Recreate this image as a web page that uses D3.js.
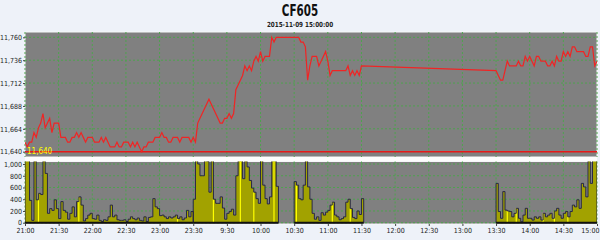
<!DOCTYPE html>
<html>
<head>
<meta charset="utf-8">
<script src="https://cdn.jsdelivr.net/npm/d3@7"></script>
<style>
  body { margin: 0; background: #eef2f9; }
  text { font-family: "Liberation Sans Narrow", "DejaVu Sans Condensed", sans-serif; }
</style>
</head>
<body>
<div id="chart"></div>
<script>
var title = "CF605";
var subtitle = "2015-11-09 15:00:00";
var tickLabels = ["21:00", "21:30", "22:00", "22:30", "23:00", "23:30", "9:30", "10:00", "10:30",
  "11:00", "11:30", "12:00", "12:30", "13:00", "13:30", "14:00", "14:30", "15:00"];
var priceTicks = [11640, 11664, 11688, 11712, 11736, 11760];
var volumeTicks = [0, 200, 400, 600, 800, 1000];
var lowLine = 11640;

// minutes after 21:00 on the compressed session axis (night, 9:00, 10:30, 13:30)
var sessionStarts = [0, 150, 240, 420];
var stepMinutes = 2;

var nightPrice = [11650, 11645, 11650, 11650, 11660, 11655, 11665, 11670, 11680, 11665,
  11670, 11675, 11660, 11670, 11670, 11670, 11655, 11655, 11655, 11650,
  11650, 11655, 11655, 11660, 11655, 11660, 11655, 11650, 11655, 11655,
  11655, 11650, 11650, 11650, 11655, 11650, 11655, 11650, 11645, 11645,
  11645, 11650, 11645, 11645, 11650, 11650, 11650, 11645, 11650, 11645,
  11650, 11645, 11640, 11645, 11645, 11650, 11650, 11650, 11655, 11655,
  11655, 11660, 11655, 11655, 11650, 11650, 11655, 11655, 11655, 11650,
  11655, 11655, 11655, 11655, 11650, 11655];
var morningPrice = [11655, 11650, 11670, 11675, 11680, 11685, 11690, 11695, 11690, 11685,
  11680, 11675, 11670, 11670, 11675, 11675, 11680, 11675, 11680, 11705,
  11710, 11715, 11720, 11730, 11725, 11730, 11725, 11735, 11740, 11735,
  11745, 11735, 11740, 11740, 11740, 11760, 11755, 11760];
var midPrice = [11760, 11760, 11760, 11755, 11755, 11750, 11715, 11730, 11740, 11740,
  11740, 11730, 11735, 11740, 11745, 11735, 11720, 11725, 11725, 11725,
  11725, 11725, 11725, 11725, 11730, 11720, 11725, 11720, 11725, 11720,
  11730];
var afternoonPrice = [11725, 11720, 11715, 11715, 11725, 11735, 11730, 11730, 11730, 11730,
  11735, 11730, 11730, 11740, 11735, 11740, 11735, 11730, 11740, 11740,
  11735, 11735, 11735, 11730, 11730, 11735, 11730, 11740, 11735, 11735,
  11745, 11740, 11745, 11740, 11750, 11750, 11745, 11745, 11745, 11745,
  11740, 11740, 11750, 11750, 11730, 11735];

var nightVolume = [1200, 1100, 380, 40, 1100, 390, 500, 480, 1300, 840,
  160, 240, 210, 390, 240, 70, 360, 210, 180, 60,
  160, 270, 100, 360, 440, 300, 30, 70, 130, 160,
  70, 60, 130, 40, 20, 50, 40, 100, 300, 100,
  130, 50, 40, 40, 50, 20, 60, 100, 70, 50,
  80, 40, 30, 100, 20, 90, 100, 410, 270, 240,
  120, 130, 100, 70, 100, 80, 100, 130, 70, 100,
  50, 80, 210, 100, 190];
var morningVolume = [400, 1100, 1000, 800, 800, 1100, 1050, 520, 1100, 400,
  330, 330, 440, 250, 60, 160, 190, 230, 130, 800,
  1200, 1100, 750, 1200, 950, 720, 590, 520, 410, 330,
  1100, 640, 410, 320, 440, 1200, 1100, 620];
var midVolume = [700, 640, 410, 390, 640, 1200, 610, 400, 160, 60,
  100, 40, 170, 130, 180, 210, 300, 350, 130, 100,
  50, 70, 100, 350, 400, 240, 90, 70, 200, 140,
  410];
var afternoonVolume = [670, 190, 75, 530, 215, 200, 190, 100, 160, 245,
  75, 17, 130, 245, 75, 75, 45, 100, 75, 100,
  45, 160, 100, 130, 160, 75, 200, 245, 130, 75,
  160, 190, 100, 190, 300, 270, 390, 245, 670, 610,
  440, 1100, 670, 1100, 1100];

// minutes (same axis) of the bars drawn in bright yellow
var highlightMinutes = [12, 48, 90, 136, 168, 192, 204, 222, 242, 274, 290, 430, 438, 462, 472, 484];

var svgWidth = 600;
var svgHeight = 240;
var plotLeft = 25, plotRight = 597;
var priceTop = 32, priceBottom = 157;
var volTop = 161.5, volBottom = 224;

var svg = d3.select("#chart").append("svg")
  .attr("width", svgWidth)
  .attr("height", svgHeight)
  .style("display", "block");

svg.append("rect").attr("width", svgWidth).attr("height", svgHeight).attr("fill", "#eef2f9");

var x = d3.scaleLinear().domain([0, 510]).range([plotLeft, plotRight]);
var yPrice = d3.scaleLinear().domain([11634.4, 11765.6]).range([priceBottom, priceTop]);
var yVol = d3.scaleLinear().domain([-22, 1043]).range([volBottom, volTop]);

var priceSeries = [nightPrice, morningPrice, midPrice, afternoonPrice];
var volumeSeries = [nightVolume, morningVolume, midVolume, afternoonVolume];

var pricePoints = [];
priceSeries.forEach(function(arr, s) {
  arr.forEach(function(p, i) {
    pricePoints.push({ t: sessionStarts[s] + i * stepMinutes, p: p });
  });
});

// titles (squeezed to match the narrow original face)
svg.append("text").attr("transform", "translate(300,16) scale(0.72,1)").attr("text-anchor", "middle")
  .attr("font-size", 16).attr("font-weight", "bold").attr("fill", "#111").text(title);
svg.append("text").attr("transform", "translate(300,26.5) scale(0.9,1)").attr("text-anchor", "middle")
  .attr("font-size", 7).attr("font-weight", "bold").attr("fill", "#222").text(subtitle);

// panels
svg.append("rect").attr("x", plotLeft).attr("y", priceTop)
  .attr("width", plotRight - plotLeft).attr("height", priceBottom - priceTop)
  .attr("fill", "#808080").attr("stroke", "#f6f7f9");
svg.append("rect").attr("x", plotLeft).attr("y", priceBottom)
  .attr("width", plotRight - plotLeft).attr("height", volTop - priceBottom)
  .attr("fill", "#fdfdfd");
svg.append("rect").attr("x", plotLeft).attr("y", volTop)
  .attr("width", plotRight - plotLeft).attr("height", volBottom - volTop)
  .attr("fill", "#808080").attr("stroke", "#f6f7f9");

var defs = svg.append("defs");
defs.append("clipPath").attr("id", "clipPrice").append("rect")
  .attr("x", plotLeft).attr("y", priceTop).attr("width", plotRight - plotLeft).attr("height", priceBottom - priceTop);
defs.append("clipPath").attr("id", "clipVol").append("rect")
  .attr("x", plotLeft).attr("y", volTop).attr("width", plotRight - plotLeft).attr("height", volBottom - volTop);

// grid
var xTickValues = d3.range(0, 511, 30);
var grid = svg.append("g").attr("stroke", "#4ea24e").attr("stroke-dasharray", "2,2").attr("stroke-width", 1);
xTickValues.forEach(function(t) {
  grid.append("line").attr("x1", x(t)).attr("x2", x(t)).attr("y1", priceTop).attr("y2", priceBottom);
  grid.append("line").attr("x1", x(t)).attr("x2", x(t)).attr("y1", volTop).attr("y2", volBottom);
});
priceTicks.forEach(function(v) {
  grid.append("line").attr("x1", plotLeft).attr("x2", plotRight).attr("y1", yPrice(v)).attr("y2", yPrice(v));
});
volumeTicks.forEach(function(v) {
  grid.append("line").attr("x1", plotLeft).attr("x2", plotRight).attr("y1", yVol(v)).attr("y2", yVol(v));
});

// price panel
var priceGroup = svg.append("g").attr("clip-path", "url(#clipPrice)");
priceGroup.append("line")
  .attr("x1", plotLeft).attr("x2", plotRight)
  .attr("y1", yPrice(lowLine)).attr("y2", yPrice(lowLine))
  .attr("stroke", "#e81818").attr("stroke-width", 1.5);

var priceLine = d3.line()
  .x(function(d) { return x(d.t); })
  .y(function(d) { return yPrice(d.p); });

priceGroup.append("path")
  .datum(pricePoints)
  .attr("d", priceLine)
  .attr("fill", "none")
  .attr("stroke", "#f02424")
  .attr("stroke-width", 1.2);

priceGroup.append("text")
  .attr("x", plotLeft + 2).attr("y", yPrice(lowLine) + 2.5)
  .attr("font-size", 8).attr("fill", "#ffff00")
  .text(d3.format(",")(lowLine));

// volume panel
var volGroup = svg.append("g").attr("clip-path", "url(#clipVol)");

var volArea = d3.area()
  .curve(d3.curveStepAfter)
  .x(function(d) { return x(d.t); })
  .y0(yVol(0))
  .y1(function(d) { return yVol(d.v); });

var volOutline = d3.line()
  .curve(d3.curveStepAfter)
  .x(function(d) { return x(d.t); })
  .y(function(d) { return yVol(d.v); });

var sessionBins = volumeSeries.map(function(arr, s) {
  var start = sessionStarts[s];
  var bins = arr.map(function(v, i) { return { t: start + i * stepMinutes, v: v }; });
  var end = start + arr.length * stepMinutes;
  return { start: start, end: end, bins: bins };
});

sessionBins.forEach(function(sess) {
  var last = sess.bins[sess.bins.length - 1].v;
  var areaData = sess.bins.concat([{ t: sess.end, v: last }]);
  volGroup.append("path")
    .datum(areaData)
    .attr("d", volArea)
    .attr("fill", "#a2a200");
});

highlightMinutes.forEach(function(m) {
  sessionBins.forEach(function(sess) {
    if (m >= sess.start && m < sess.end) {
      var bin = sess.bins[Math.floor((m - sess.start) / stepMinutes)];
      volGroup.append("line")
        .attr("x1", x(m)).attr("x2", x(m))
        .attr("y1", yVol(0)).attr("y2", yVol(bin.v))
        .attr("stroke", "#ffff00").attr("stroke-width", 1.2);
    }
  });
});

sessionBins.forEach(function(sess) {
  var last = sess.bins[sess.bins.length - 1].v;
  var lineData = [{ t: sess.start, v: 0 }].concat(sess.bins, [{ t: sess.end, v: last }, { t: sess.end, v: 0 }]);
  volGroup.append("path")
    .datum(lineData)
    .attr("d", volOutline)
    .attr("fill", "none")
    .attr("stroke", "#1e1e46")
    .attr("stroke-width", 0.9);
  volGroup.append("line")
    .attr("x1", x(sess.start)).attr("x2", x(sess.end))
    .attr("y1", yVol(0)).attr("y2", yVol(0))
    .attr("stroke", "#111").attr("stroke-width", 2);
});

// axes
function styleAxis(g) {
  g.select(".domain").remove();
  g.selectAll(".tick line").attr("stroke", "#444");
  g.selectAll("text").attr("font-size", 7).attr("fill", "#222")
    .style("font-family", "'Liberation Sans Narrow', 'DejaVu Sans Condensed', sans-serif");
}

svg.append("g")
  .attr("transform", "translate(" + plotLeft + ",0)")
  .call(d3.axisLeft(yPrice).tickValues(priceTicks).tickSize(2).tickPadding(1).tickFormat(d3.format(",")))
  .call(styleAxis);

svg.append("g")
  .attr("transform", "translate(" + plotLeft + ",0)")
  .call(d3.axisLeft(yVol).tickValues(volumeTicks).tickSize(2).tickPadding(1).tickFormat(d3.format(",")))
  .call(styleAxis);

var xAxisG = svg.append("g")
  .attr("transform", "translate(0," + volBottom + ")")
  .call(d3.axisBottom(x).tickValues(xTickValues).tickSize(2).tickPadding(2)
    .tickFormat(function(d, i) { return tickLabels[i]; }))
  .call(styleAxis);

// keep the last label inside the window
xAxisG.selectAll(".tick text")
  .filter(function(d) { return d === 510; })
  .attr("text-anchor", "end")
  .attr("x", 2);
</script>
</body>
</html>
